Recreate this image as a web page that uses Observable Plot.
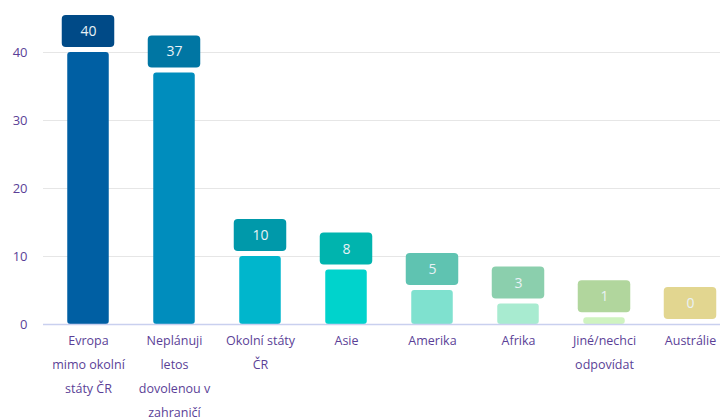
<!DOCTYPE html>
<html>
<head>
<meta charset="utf-8">
<script src="https://cdn.jsdelivr.net/npm/d3@7"></script>
<script src="https://cdn.jsdelivr.net/npm/@observablehq/plot@0.6"></script>
<style>
  html, body { margin: 0; padding: 0; background: #fff; }
  #chart svg { display: block; }
</style>
</head>
<body>
<div id="chart"></div>
<script>
const categories = ["Evropa mimo okolní státy ČR", "Neplánuji letos dovolenou v zahraničí", "Okolní státy ČR", "Asie", "Amerika", "Afrika", "Jiné/nechci odpovídat", "Austrálie"];
const tickLabels = ["Evropa\nmimo okolní\nstáty ČR", "Neplánuji\nletos\ndovolenou v\nzahraničí", "Okolní státy\nČR", "Asie", "Amerika", "Afrika", "Jiné/nechci\nodpovídat", "Austrálie"];
const values = [40, 37, 10, 8, 5, 3, 1, 0];
const yTicks = [0, 10, 20, 30, 40];

const barColors = ["#005fa3", "#008dbd", "#00b6cc", "#00d3cc", "#7fe1cf", "#a8ebd0", "#cff3c0", "#f0ebb5"];
const boxColors = ["#004a87", "#0076a3", "#0099aa", "#00b4ae", "#5fc3b1", "#8bcfad", "#b1d69d", "#e2d690"];

const data = categories.map((c, i) => ({cat: c, label: tickLabels[i], value: values[i], i}));

const font = "'Open Sans', sans-serif";
const purple = "#5b3f97";

const chart = Plot.plot({
  width: 720,
  height: 419,
  marginLeft: 43,
  marginRight: 0,
  marginTop: 52,
  marginBottom: 95,
  style: {fontFamily: font, fontSize: "13px", background: "#fff"},
  x: {domain: categories, range: [43, 735], padding: 0, axis: null},
  y: {domain: [0, 40], ticks: yTicks, axis: null, label: null},
  marks: [
    Plot.gridY(yTicks.filter(t => t > 0), {stroke: "#e6e6e6", strokeOpacity: 1}),
    Plot.axisY(yTicks, {tickSize: 0, tickPadding: 16, fill: purple, fontSize: 13, stroke: null, label: null}),
    Plot.barY(data, {x: "cat", y: "value", fill: d => barColors[d.i], insetLeft: 22.25, insetRight: 22.25, rx: 3}),
    Plot.ruleY([0], {stroke: "#c9d0ef", strokeWidth: 1.5}),
    Plot.barY(data, {x: "cat", y1: "value", y2: "value", fill: d => boxColors[d.i], insetLeft: 16.75, insetRight: 16.75, insetTop: -37, insetBottom: 5, rx: 4}),
    Plot.text(data, {x: "cat", y: "value", text: d => String(d.value), dy: -21, fill: "#e9f2f6", fontSize: 14, fontFamily: font}),
    Plot.text(data, {x: "cat", y: 0, text: "label", dy: 3, lineAnchor: "top", lineHeight: 1.92, fill: purple, fontSize: 12.5, fontFamily: font})
  ]
});
document.getElementById("chart").appendChild(chart);
</script>
</body>
</html>
